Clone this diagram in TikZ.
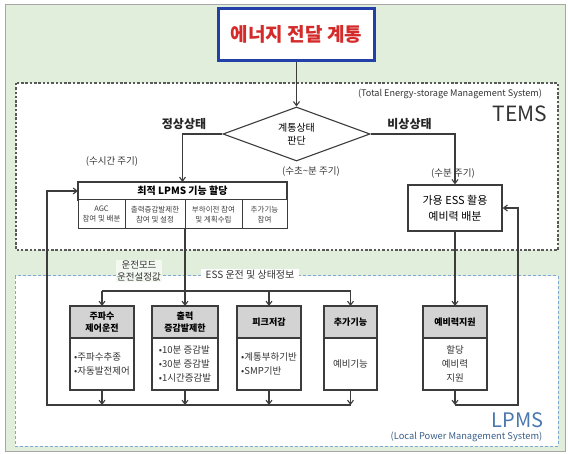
\documentclass[tikz,border=0pt]{standalone}
\usepackage{fontspec}
\setmainfont{Noto Sans CJK KR}
\usepackage{tikz}
\usetikzlibrary{positioning, arrows.meta, shapes.geometric, calc}

\definecolor{bggreen}{HTML}{E2EEDC}
\definecolor{titleblue}{HTML}{2340A8}
\definecolor{titlered}{HTML}{D42A2A}
\definecolor{linegray}{HTML}{3C3C3C}
\definecolor{hdrgray}{HTML}{D3D3D3}
\definecolor{lpmsblue}{HTML}{7FA8D2}
\definecolor{lpmstext}{HTML}{4A78AE}

\begin{document}
\begin{tikzpicture}[
        x=1pt, y=-1pt,
        node distance=0pt,
        arr/.style={-{Straight Barb[length=4pt,width=6pt]}, line width=1.1pt, draw=linegray},
        lne/.style={line width=1.1pt, draw=linegray},
        lbl/.style={font=\fontsize{9.5}{11}\selectfont, text=black!80, inner sep=1pt},
        state/.style={font=\fontsize{12}{14}\selectfont\bfseries, text=black!85},
        cell/.style={draw=linegray, line width=1pt, fill=white, minimum width=#1, minimum height=29pt, inner sep=0pt, outer sep=0pt, align=center, font=\fontsize{7.5}{10}\selectfont, text=black!75},
        hdr/.style={draw=linegray, line width=1.6pt, fill=hdrgray, minimum width=#1, minimum height=32pt, inner sep=0pt, outer sep=0pt, align=center, font=\fontsize{9}{12}\selectfont\bfseries},
        bdy/.style={draw=linegray, line width=1.6pt, fill=white, minimum width=#1, minimum height=52pt, inner sep=0pt, outer sep=0pt, align=left, font=\fontsize{9.5}{14}\selectfont, text=black!80},
    ]
    \useasboundingbox (0,0) rectangle (568,454);
    \draw[gray!70, fill=bggreen] (5,4) rectangle (565,451);

    % TEMS and LPMS areas
    \draw[dash pattern=on 2.5pt off 1.8pt, line width=1.1pt, draw=black!65, fill=white] (16,83) rectangle (558,250);
    \draw[dash pattern=on 3pt off 2pt, line width=1pt, draw=lpmsblue, fill=white] (15,276) rectangle (558,446);
    \node[font=\fontsize{9.1}{11}\selectfont, text=black!80] (temsfull) at (450,94) {(Total Energy-storage Management System)};
    \node[font=\fontsize{21}{24}\selectfont, text=black!80] (tems) at (520,114) {TEMS};
    \node[font=\fontsize{20}{24}\selectfont, text=lpmstext] (lpms) at (517.5,420) {LPMS};
    \node[font=\fontsize{9.3}{11}\selectfont, text=lpmstext!80!black] (lpmsfull) at (466.5,437) {(Local Power Management System)};

    % Top level
    \node[draw=titleblue, line width=3pt, fill=white, minimum width=156pt, minimum height=52pt, font=\fontsize{19}{21}\selectfont\bfseries, text=titlered] (title) at (296.5,34.5) {에너지 전달 계통};
    \node[diamond, draw=linegray, line width=1.1pt, fill=white, minimum width=147pt, minimum height=54pt, inner sep=0pt, aspect=2.7, align=center, font=\fontsize{10}{13}\selectfont] (judge) at (296.5,134) {계통상태\\판단};
    \node[state] (normal) at (184,124) {정상상태};
    \node[state] (emerg) at (409.5,124) {비상상태};
    \node[lbl] (hourly) at (112,162) {(수시간 주기)};
    \node[lbl] (seconds) at (311,172) {(수초\textasciitilde 분 주기)};
    \node[lbl] (minutes) at (453,174) {(수분 주기)};

    % LPMS allocation
    \node[draw=linegray, line width=1.2pt, fill=white, minimum width=209pt, minimum height=18pt, inner sep=0pt, outer sep=0pt, font=\fontsize{10}{11}\selectfont\bfseries] (alloc) at (182.5,191) {최적 LPMS 기능 할당};
    \node[cell=47pt, anchor=north west] (agc) at (alloc.south west) {AGC\\참여 및 배분};
    \node[cell=60pt, right=of agc] (ramp) {출력증감발제한\\참여 및 설정};
    \node[cell=57pt, right=of ramp] (shift) {부하이전 참여\\및 계획수립};
    \node[cell=45pt, right=of shift] (addon) {추가기능\\참여};

    % Reserve distribution
    \node[draw=linegray, line width=1.2pt, fill=white, minimum width=94pt, minimum height=46pt, align=center, font=\fontsize{11}{16}\selectfont] (ess) at (455,208) {가용 ESS 활용\\예비력 배분};

    % Interface labels
    \node[lbl, fill=bggreen!40!white, align=center, font=\fontsize{9.5}{12}\selectfont] (mode) at (139,271) {운전모드\\운전설정값};
    \node[lbl, fill=white, font=\fontsize{10}{11}\selectfont, inner xsep=5pt] (essinfo) at (250,275) {ESS 운전 및 상태정보};

    % LPMS functions
    \node[hdr=64pt] (freqh) at (102,322) {주파수\\제어운전};
    \node[bdy=64pt, below=of freqh] (freqb) {•주파수추종\\•자동발전제어};
    \node[hdr=66pt] (ramph) at (185,322) {출력\\증감발제한};
    \node[bdy=66pt, below=of ramph] (rampb) {•10분 증감발\\•30분 증감발\\•1시간증감발};
    \node[hdr=64pt] (peakh) at (269,322) {피크저감};
    \node[bdy=64pt, below=of peakh] (peakb) {•계통부하기반\\•SMP기반};
    \node[hdr=53pt] (extrah) at (350.5,322) {추가기능};
    \node[bdy=53pt, below=of extrah] (extrab) {예비기능};
    \node[hdr=64pt] (resh) at (455,322) {예비력지원};
    \node[bdy=64pt, align=center, below=of resh] (resb) {할당\\예비력\\지원};

    % Connectors
    \coordinate (bus) at (0,291);
    \coordinate (fb) at (47,405);
    \coordinate (rb) at (518,405);
    \draw[arr] (title) -- (judge);
    \draw[arr] (judge.west) -| (alloc.north);
    \draw[arr] (judge.east) -| (ess.north);
    \draw[arr] (ramp.south east) -- (ramp.south east |- ramph.north);
    \draw[lne] (freqh.north |- bus) -- (extrah.north |- bus);
    \foreach \b in {freqh, peakh, extrah} {
        \draw[arr] (\b.north |- bus) -- (\b.north);
    }
    \foreach \b in {freqb, rampb, peakb, extrab} {
        \draw[arr] (\b.south) -- (\b.south |- fb);
    }
    \draw[arr] (extrab.south |- fb) -- (fb) |- (alloc.west);
    \draw[arr] (ess.south) -- (resh.north);
    \draw[arr] (resb.south) -- (resb.south |- rb);
    \draw[arr] (resb.south |- rb) -- (rb) |- (ess.east);

\end{tikzpicture}
\end{document}
